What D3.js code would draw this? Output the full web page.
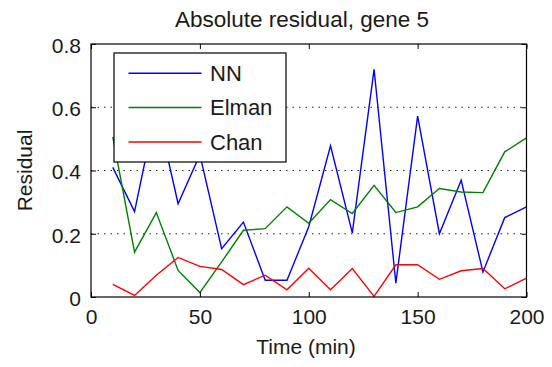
<!DOCTYPE html>
<html><head><meta charset="utf-8">
<script src="https://cdn.jsdelivr.net/npm/d3@7"></script>
<style>body{margin:0;background:#fff}svg{display:block}text{font-family:"Liberation Sans",Arial,sans-serif;fill:#1a1a1a}</style>
</head><body>
<svg id="c" width="552" height="367"></svg>
<script>
const times = [10,20,30,40,50,60,70,80,90,100,110,120,130,140,150,160,170,180,190,200];
const nnValues = [0.41,0.27,0.60,0.295,0.45,0.153,0.237,0.053,0.053,0.222,0.478,0.203,0.72,0.044,0.572,0.20,0.369,0.079,0.251,0.285];
const elmanValues = [0.506,0.142,0.267,0.084,0.014,0.111,0.211,0.216,0.285,0.233,0.308,0.264,0.353,0.267,0.285,0.343,0.332,0.330,0.459,0.503];
const chanValues = [0.040,0.005,0.069,0.125,0.097,0.087,0.039,0.069,0.023,0.091,0.023,0.090,0.002,0.102,0.102,0.056,0.083,0.090,0.026,0.060];
const seriesNames = ["NN","Elman","Chan"];
const seriesColors = ["#0000ff","#008000","#ff0000"];
const xTicks = [0,50,100,150,200];
const yTicks = [0,0.2,0.4,0.6,0.8];
const titleText = "Absolute residual, gene 5";
const xLabel = "Time (min)";
const yLabel = "Residual";

const svg = d3.select("#c");
const L = 91, R = 526.5, T = 44, B = 297;
const x = d3.scaleLinear().domain([0,200]).range([L,R]);
const y = d3.scaleLinear().domain([0,0.8]).range([B,T]);
const fs = 21;

// grid
svg.append("g").selectAll("line").data(yTicks.filter(v=>v>0&&v<0.8)).join("line")
  .attr("x1",L).attr("x2",R).attr("y1",d=>y(d)).attr("y2",d=>y(d))
  .attr("stroke","#222").attr("stroke-width",1).attr("stroke-dasharray","1.5,5");

// series lines
const allSeries = [nnValues, elmanValues, chanValues];
const line = d3.line().x((d,i)=>x(times[i])).y(d=>y(d));
allSeries.forEach((vals,k)=>{
  svg.append("path").datum(vals).attr("d",line).attr("fill","none")
    .attr("stroke",seriesColors[k]).attr("stroke-width",1.4).attr("stroke-linejoin","miter");
});

// axes box with inward ticks
const tl = 5;
const gx = svg.append("g").attr("transform",`translate(0,${B})`)
  .call(d3.axisBottom(x).tickValues(xTicks).tickSize(-tl).tickPadding(12).tickFormat(d3.format("d")));
const gxt = svg.append("g").attr("transform",`translate(0,${T})`)
  .call(d3.axisTop(x).tickValues(xTicks).tickSize(-tl).tickFormat(""));
const gy = svg.append("g").attr("transform",`translate(${L},0)`)
  .call(d3.axisLeft(y).tickValues(yTicks).tickSize(-tl).tickPadding(10).tickFormat(d=>d===0?"0":d3.format(".1f")(d)));
const gyr = svg.append("g").attr("transform",`translate(${R},0)`)
  .call(d3.axisRight(y).tickValues(yTicks).tickSize(-tl).tickFormat(""));
[gx,gxt,gy,gyr].forEach(g=>{
  g.select(".domain").remove();
  g.selectAll("line").attr("stroke","#000");
  g.selectAll("text").attr("font-size",fs).attr("fill","#1a1a1a").style("font-family","'Liberation Sans',Arial,sans-serif");
});
gx.selectAll("text").attr("dy","0.71em");
gy.selectAll("text").attr("dy","0.4em");
svg.append("rect").attr("x",L).attr("y",T).attr("width",R-L).attr("height",B-T)
  .attr("fill","none").attr("stroke","#000").attr("stroke-width",1.2);

// legend
const lg = svg.append("g");
lg.append("rect").attr("x",114).attr("y",53).attr("width",172).attr("height",109)
  .attr("fill","#fff").attr("stroke","#000").attr("stroke-width",1.2);
const rows = [73.3,107.5,142];
seriesNames.forEach((n,k)=>{
  lg.append("line").attr("x1",128.5).attr("x2",201.5).attr("y1",rows[k]).attr("y2",rows[k])
    .attr("stroke",seriesColors[k]).attr("stroke-width",1.4);
  lg.append("text").attr("x",210).attr("y",rows[k]).attr("dy","0.36em").attr("font-size",fs+1).text(n);
});

// titles
svg.append("text").attr("x",302).attr("y",27).attr("text-anchor","middle").attr("font-size",fs+1.5).text(titleText);
svg.append("text").attr("x",306).attr("y",354).attr("text-anchor","middle").attr("font-size",fs).text(xLabel);
svg.append("text").attr("transform",`translate(32,${(T+B)/2}) rotate(-90)`).attr("text-anchor","middle").attr("font-size",fs).text(yLabel);
</script>
</body></html>
